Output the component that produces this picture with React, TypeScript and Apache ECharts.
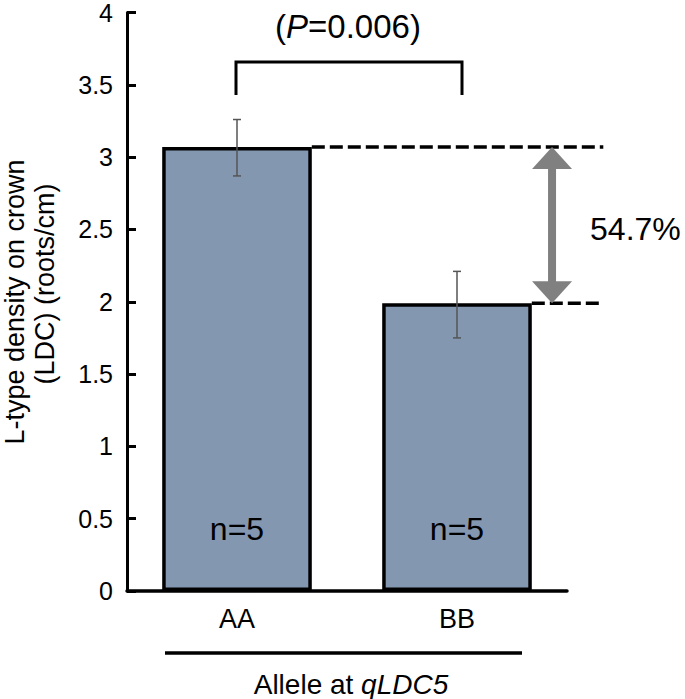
import React, { useEffect, useRef } from "react";
import * as echarts from "echarts";

const categories = ["AA", "BB"];
const means = [3.07, 1.99];
const errLow = [2.87, 1.75];
const errHigh = [3.26, 2.21];
const nLabels = ["n=5", "n=5"];
const pValue = "0.006";
const diffLabel = "54.7%";
const yAxisLines = ["L-type density on crown", "(LDC) (roots/cm)"];
const xTitlePlain = "Allele at ";
const xTitleItalic = "qLDC5";

const FONT = "'Liberation Sans', Arial, sans-serif";

export default function App() {
  const ref = useRef<HTMLDivElement>(null);
  useEffect(() => {
    if (!ref.current) return;
    const chart = echarts.init(ref.current, null, { renderer: "svg" });
    const BAR_FRAC = 0.68;
    chart.setOption({
      animation: false,
      backgroundColor: "#fff",
      textStyle: { fontFamily: FONT },
      grid: { left: 127, right: 118, top: 11, bottom: 108 },
      xAxis: {
        type: "category",
        data: categories,
        axisLine: { lineStyle: { color: "#000", width: 3.5 } },
        axisTick: { show: false },
        axisLabel: { color: "#000", fontSize: 27, margin: 14, fontFamily: FONT },
      },
      yAxis: {
        type: "value",
        min: 0,
        max: 4,
        interval: 0.5,
        axisLine: { show: true, lineStyle: { color: "#000", width: 3 } },
        axisTick: { show: true, inside: true, length: 9, lineStyle: { color: "#000", width: 3 } },
        axisLabel: { color: "#000", fontSize: 25, margin: 14, fontFamily: FONT },
        splitLine: { show: false },
      },
      series: [
        {
          type: "bar",
          data: means,
          barWidth: BAR_FRAC * 100 + "%",
          itemStyle: { color: "#8497B0", borderColor: "#000", borderWidth: 3.5 },
          label: {
            show: true,
            position: "insideBottom",
            distance: 46,
            formatter: (p: any) => nLabels[p.dataIndex],
            fontSize: 32,
            color: "#000",
            fontFamily: FONT,
          },
          z: 2,
        },
        {
          type: "custom",
          data: categories.map((_, i) => [i, errLow[i], errHigh[i]]),
          z: 5,
          renderItem: (params: any, api: any) => {
            const i = api.value(0);
            const lo = api.coord([i, api.value(1)]);
            const hi = api.coord([i, api.value(2)]);
            const w = 4;
            const st = { stroke: "#555", lineWidth: 1.5 };
            return {
              type: "group",
              children: [
                { type: "line", shape: { x1: lo[0], y1: lo[1], x2: hi[0], y2: hi[1] }, style: st },
                { type: "line", shape: { x1: hi[0] - w, y1: hi[1], x2: hi[0] + w, y2: hi[1] }, style: st },
                { type: "line", shape: { x1: lo[0] - w, y1: lo[1], x2: lo[0] + w, y2: lo[1] }, style: st },
              ],
            };
          },
        },
        {
          type: "custom",
          data: [[0, means[0], means[1]]],
          z: 6,
          renderItem: (params: any, api: any) => {
            const a = api.coord([0, api.value(1)]);
            const b = api.coord([1, api.value(2)]);
            const bw = api.size([1, 0])[0];
            const half = (bw * BAR_FRAC) / 2;
            const endX = b[0] + bw * 0.665;
            const arrowX = b[0] + bw * 0.432;
            const dash = { stroke: "#000", lineWidth: 3.5, lineDash: [13, 5] };
            const gray = "#808080";
            const headH = 22;
            const headW = 20;
            return {
              type: "group",
              children: [
                { type: "line", shape: { x1: a[0] + half, y1: a[1], x2: endX, y2: a[1] }, style: dash },
                { type: "line", shape: { x1: b[0] + half, y1: b[1], x2: endX, y2: b[1] }, style: dash },
                {
                  type: "line",
                  shape: { x1: arrowX, y1: a[1] + headH - 2, x2: arrowX, y2: b[1] - headH + 2 },
                  style: { stroke: gray, lineWidth: 8 },
                },
                {
                  type: "polygon",
                  shape: { points: [[arrowX, a[1]], [arrowX - headW, a[1] + headH], [arrowX + headW, a[1] + headH]] },
                  style: { fill: gray },
                },
                {
                  type: "polygon",
                  shape: { points: [[arrowX, b[1]], [arrowX - headW, b[1] - headH], [arrowX + headW, b[1] - headH]] },
                  style: { fill: gray },
                },
                {
                  type: "text",
                  style: {
                    text: diffLabel,
                    x: arrowX + 38,
                    y: (a[1] + b[1]) / 2 + 4,
                    align: "left",
                    verticalAlign: "middle",
                    font: "32px " + FONT,
                    fill: "#000",
                  },
                },
              ],
            };
          },
        },
      ],
      graphic: [
        {
          type: "text",
          x: 348,
          y: 26,
          style: {
            text: "{a|(}{b|P}{a|=" + pValue + ")}",
            align: "center",
            verticalAlign: "middle",
            rich: {
              a: { fontSize: 33, fontFamily: FONT, fill: "#000" },
              b: { fontSize: 33, fontFamily: FONT, fontStyle: "italic", fill: "#000" },
            },
          },
        },
        {
          type: "polyline",
          shape: { points: [[236, 95], [236, 62], [462, 62], [462, 95]] },
          style: { stroke: "#000", lineWidth: 3, fill: null },
        },
        {
          type: "line",
          shape: { x1: 165, y1: 653, x2: 522, y2: 653 },
          style: { stroke: "#000", lineWidth: 3.5 },
        },
        {
          type: "text",
          x: 351,
          y: 684,
          style: {
            text: "{a|" + xTitlePlain + "}{b|" + xTitleItalic + "}",
            align: "center",
            verticalAlign: "middle",
            rich: {
              a: { fontSize: 28, fontFamily: FONT, fill: "#000" },
              b: { fontSize: 28, fontFamily: FONT, fontStyle: "italic", fill: "#000" },
            },
          },
        },
        {
          type: "text",
          x: 15,
          y: 302,
          rotation: Math.PI / 2,
          style: {
            text: yAxisLines[0],
            align: "center",
            verticalAlign: "middle",
            font: "27px " + FONT,
            fill: "#000",
          },
        },
        {
          type: "text",
          x: 45,
          y: 284,
          rotation: Math.PI / 2,
          style: {
            text: yAxisLines[1],
            align: "center",
            verticalAlign: "middle",
            font: "27px " + FONT,
            fill: "#000",
          },
        },
      ],
    });
    return () => chart.dispose();
  }, []);
  return (
    <div
      ref={ref}
      style={{ position: "absolute", left: 0, top: 0, width: 685, height: 699 }}
    />
  );
}
